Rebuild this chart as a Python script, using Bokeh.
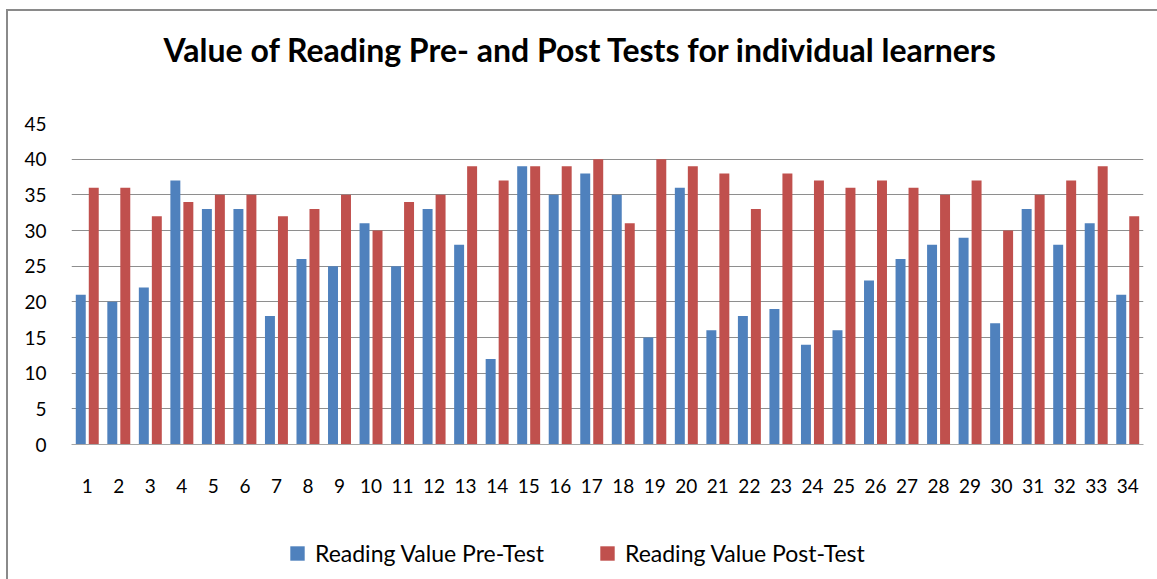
from bokeh.plotting import figure
from bokeh.models import (ColumnDataSource, FactorRange, Range1d, Legend, LegendItem,
                          FixedTicker, Title)
from bokeh.transform import dodge
from bokeh.embed import file_html
from bokeh.resources import INLINE

learners = [str(i) for i in range(1, 35)]
pre_test = [21, 20, 22, 37, 33, 33, 18, 26, 25, 31, 25, 33, 28, 12, 39, 35, 38,
            35, 15, 36, 16, 18, 19, 14, 16, 23, 26, 28, 29, 17, 33, 28, 31, 21]
post_test = [36, 36, 32, 34, 35, 35, 32, 33, 35, 30, 34, 35, 39, 37, 39, 39, 40,
             31, 40, 39, 38, 33, 38, 37, 36, 37, 36, 35, 37, 30, 35, 37, 39, 32]
y_ticks = [0, 5, 10, 15, 20, 25, 30, 35, 40, 45]
series_names = ["Reading Value Pre-Test", "Reading Value Post-Test"]
title_text = "Value of Reading Pre- and Post Tests for individual learners"

FONT = "Lato"
BLUE = "#4F81BD"
RED = "#C0504D"

src = ColumnDataSource(dict(x=learners, pre=pre_test, post=post_test))

# the plot area reaches down to the legend; the value axis still runs 0..45 above it
y_top = 45
y_bottom = -131 * 45 / 321

p = figure(x_range=FactorRange(*learners, range_padding=0.0),
           y_range=Range1d(y_bottom, y_top),
           frame_width=1072, frame_height=452,
           output_backend="svg", toolbar_location=None,
           min_border_left=63, min_border_right=14, min_border_top=112, min_border_bottom=4)

r1 = p.vbar(x=dodge("x", -0.206, range=p.x_range), top="pre", width=0.316, source=src,
            fill_color=BLUE, line_color=None)
r2 = p.vbar(x=dodge("x", 0.206, range=p.x_range), top="post", width=0.316, source=src,
            fill_color=RED, line_color=None)

p.title.text = title_text
p.title.align = "left"
p.title.offset = 92
p.title.text_font = FONT
p.title.text_font_style = "bold"
p.title.text_font_size = "32px"
p.title.text_color = "black"
p.title.standoff = 0

# empty spacer between the title and the plot area
p.add_layout(Title(text=" ", text_font_size="1px", standoff=52), "above")

p.outline_line_color = None
p.background_fill_color = "white"
p.border_fill_color = "white"

p.xgrid.grid_line_color = None
p.ygrid.grid_line_color = "#8e8e8e"
p.ygrid.grid_line_width = 1
p.yaxis.ticker = FixedTicker(ticks=y_ticks)

p.yaxis.axis_line_color = None
p.yaxis.major_tick_line_color = None
p.yaxis.minor_tick_line_color = None
p.yaxis.major_label_standoff = 19
p.yaxis.major_label_text_font = FONT
p.yaxis.major_label_text_font_size = "19px"
p.yaxis.major_label_text_color = "black"

p.xaxis.fixed_location = 0
p.xaxis.axis_line_color = "#a6a6a6"
p.xaxis.major_tick_line_color = None
p.xaxis.minor_tick_line_color = None
p.xaxis.major_label_standoff = 28
p.xaxis.major_label_text_font = FONT
p.xaxis.major_label_text_font_size = "19px"
p.xaxis.major_label_text_color = "black"

legend = Legend(items=[LegendItem(label=series_names[0], renderers=[r1]),
                       LegendItem(label=series_names[1], renderers=[r2])],
                orientation="horizontal", location=(217, 8),
                border_line_color=None, background_fill_alpha=0,
                label_text_font=FONT, label_text_font_size="23px",
                label_text_color="black",
                glyph_width=18, glyph_height=18, spacing=54, margin=0, padding=0,
                label_standoff=9)
p.add_layout(legend, "center")

p.styles = {"border-left": "2px solid #8a8a8a", "border-top": "2px solid #8a8a8a",
            "margin-left": "6px", "margin-top": "9px"}

open("out.html", "w").write(file_html(p, INLINE))
